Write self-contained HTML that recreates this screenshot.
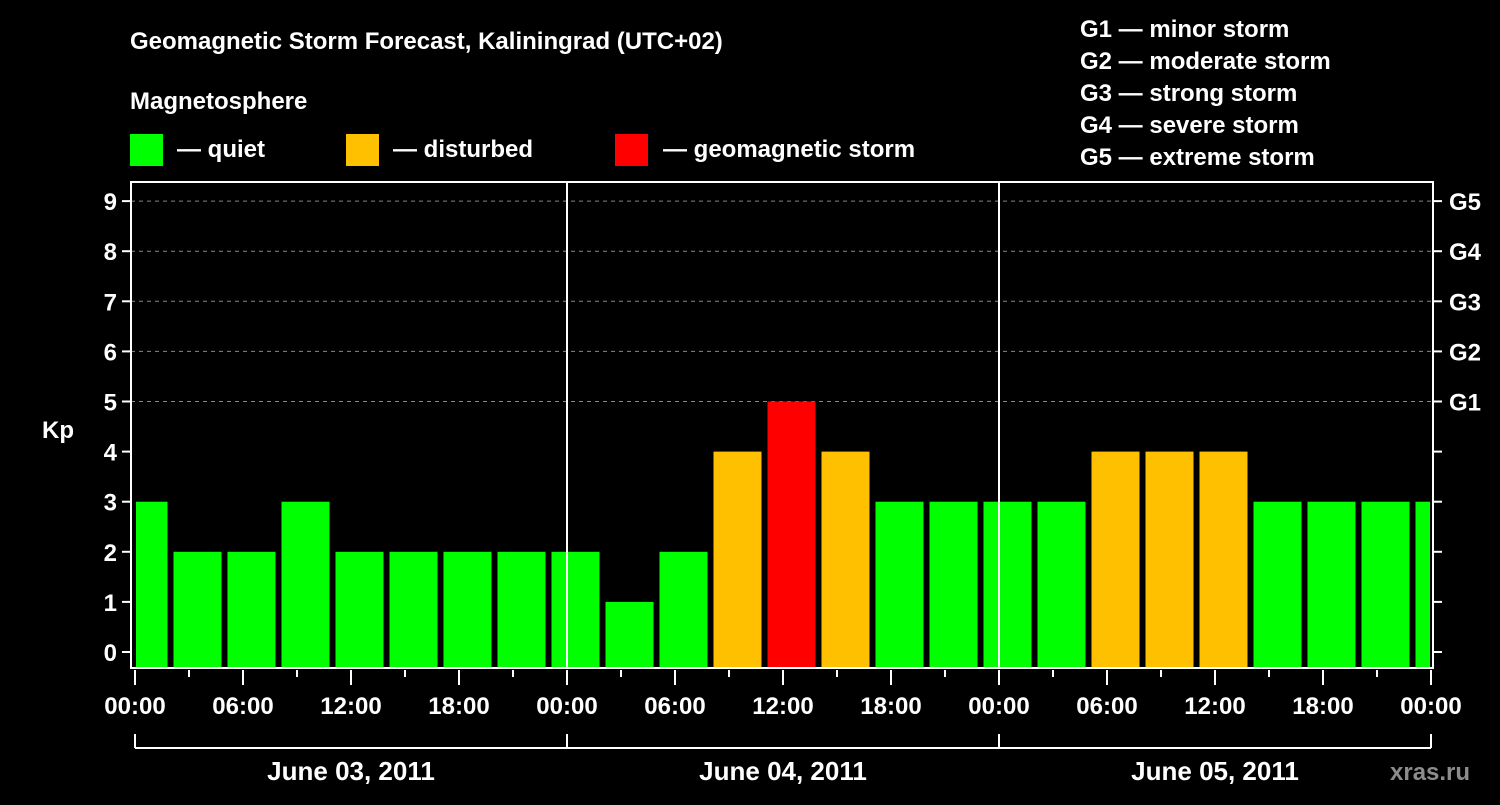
<!DOCTYPE html>
<html><head><meta charset="utf-8"><style>
body{margin:0;background:#000;}
svg text{font-family:"Liberation Sans",Arial,sans-serif;font-weight:bold;fill:#fff;}
</style></head><body>
<svg id="c" width="1500" height="800">
<rect width="1500" height="800" fill="#000"/>
<text x="130" y="49" font-size="24">Geomagnetic Storm Forecast, Kaliningrad (UTC+02)</text>
<text x="130" y="109" font-size="24">Magnetosphere</text>
<g><rect x="130" y="134" width="33" height="32" fill="#00ff00"/><text x="177" y="157" font-size="24">— quiet</text></g>
<g><rect x="346" y="134" width="33" height="32" fill="#ffc000"/><text x="393" y="157" font-size="24">— disturbed</text></g>
<g><rect x="615" y="134" width="33" height="32" fill="#ff0000"/><text x="663" y="157" font-size="24">— geomagnetic storm</text></g>
<g font-size="24">
<text x="1080" y="37">G1 — minor storm</text>
<text x="1080" y="69">G2 — moderate storm</text>
<text x="1080" y="101">G3 — strong storm</text>
<text x="1080" y="133">G4 — severe storm</text>
<text x="1080" y="165">G5 — extreme storm</text>
</g>
<g id="grid"></g><g id="bars"></g><g id="axes"></g>
<text x="1390" y="780" font-size="24" fill="#888" style="fill:#8c8c8c">xras.ru</text>
</svg>
<script>
const kpValues=[3,2,2,3,2,2,2,2,2,1,2,4,5,4,3,3,3,3,4,4,4,3,3,3,3];
const hourLabels=["00:00","06:00","12:00","18:00","00:00","06:00","12:00","18:00","00:00","06:00","12:00","18:00","00:00"];
const dayLabels=["June 03, 2011","June 04, 2011","June 05, 2011"];
const gLabels=["G1","G2","G3","G4","G5"];
const NS="http://www.w3.org/2000/svg";
const X0=135,PX_PER_H=18,Y0=652,PX_PER_KP=50.1,L=131,R=1433,T=182,B=668;
const xs=h=>X0+h*PX_PER_H, ys=v=>Y0-v*PX_PER_KP;
function mk(p,tag,a){const e=document.createElementNS(NS,tag);for(const k in a)e.setAttribute(k,a[k]);p.appendChild(e);return e;}
const grid=document.getElementById('grid'),bars=document.getElementById('bars'),axes=document.getElementById('axes');
for(let v=5;v<=9;v++){const l=mk(grid,'line',{x1:L,x2:R,y1:ys(v),y2:ys(v),stroke:'#888','stroke-dasharray':'4,4','stroke-width':1});

}
kpValues.forEach((v,i)=>{
 const c=xs(i*3)+8.5, w=48;
 let x1=Math.max(c-w/2,L+5), x2=Math.min(c+w/2,R-3);
 const col=v>=5?'#ff0000':v>=4?'#ffc000':'#00ff00';
 const r=mk(bars,'rect',{x:x1,y:ys(v),width:x2-x1,height:B-ys(v),fill:col});
 
 
});
const f=mk(axes,'rect',{x:L,y:T,width:R-L,height:B-T,fill:'none',stroke:'#fff','stroke-width':2});


for(const d of [1,2]){const l=mk(axes,'line',{x1:xs(d*24),x2:xs(d*24),y1:T,y2:B,stroke:'#fff','stroke-width':2});

}
for(let v=0;v<=9;v++){
 mk(axes,'line',{x1:L-9,x2:L,y1:ys(v),y2:ys(v),stroke:'#fff','stroke-width':2});
 mk(axes,'line',{x1:R,x2:R+9,y1:ys(v),y2:ys(v),stroke:'#fff','stroke-width':2});
 const t=mk(axes,'text',{x:L-14,y:ys(v)+9,'font-size':24,'text-anchor':'end'});t.textContent=v;
 
 
}
gLabels.forEach((g,i)=>{const t=mk(axes,'text',{x:1449,y:ys(5+i)+9,'font-size':24});t.textContent=g;

});
const kp=mk(axes,'text',{x:42,y:438,'font-size':24});kp.textContent='Kp';


for(let h=0;h<=72;h+=3){mk(axes,'line',{x1:xs(h),x2:xs(h),y1:B+2,y2:B+(h%6==0?17:9),stroke:'#fff','stroke-width':2});}
hourLabels.forEach((s,i)=>{const t=mk(axes,'text',{x:xs(i*6),y:714,'font-size':24,'text-anchor':'middle'});t.textContent=s;

});
mk(axes,'line',{x1:xs(0),x2:xs(72),y1:748,y2:748,stroke:'#fff','stroke-width':2});
for(let d=0;d<=3;d++)mk(axes,'line',{x1:xs(d*24),x2:xs(d*24),y1:734,y2:748,stroke:'#fff','stroke-width':2});
dayLabels.forEach((s,i)=>{const t=mk(axes,'text',{x:xs(i*24+12),y:780,'font-size':26,'text-anchor':'middle'});t.textContent=s;

});
</script>
</body></html>
